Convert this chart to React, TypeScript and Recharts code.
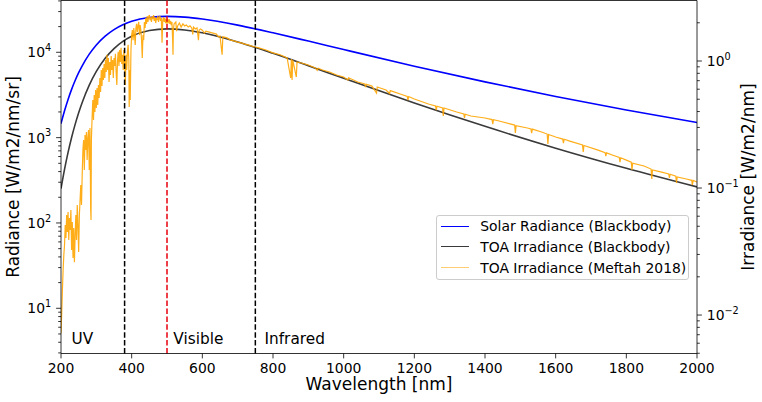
import { LineChart, Line, XAxis, YAxis, ReferenceLine, Legend } from "recharts";

const FONT = "DejaVu Sans, sans-serif";

// blackbody curves
const BB_WAVELENGTH = [200, 210, 220, 230, 240, 250, 260, 280, 300, 325, 350, 375, 400, 450, 500, 550, 600, 700, 800, 900, 1000, 1200, 1400, 1600, 1800, 2000];
const SOLAR_RADIANCE = [1459, 2065, 2806, 3678, 4667, 5763, 6946, 9505, 12183, 15460, 18447, 21020, 23067, 25590, 26375, 25857, 24532, 20805, 16921, 13531, 10766, 6872, 4500, 3036, 2109, 1505];
const TOA_BLACKBODY = [0.0991, 0.1403, 0.1906, 0.2499, 0.3171, 0.3915, 0.4719, 0.6458, 0.8277, 1.05, 1.253, 1.428, 1.567, 1.739, 1.792, 1.757, 1.667, 1.414, 1.15, 0.919, 0.731, 0.467, 0.306, 0.206, 0.143, 0.102];

// Meftah 2018 spectrum (traced)
const MEFTAH_WAVELENGTH = [
  200, 202, 204, 206, 208, 210, 212, 214, 216, 218, 220, 222, 224, 226, 228, 230, 232, 234, 236, 238,
  240, 242, 244, 246, 248, 250, 252, 254, 256, 258, 260, 262, 264, 266, 268, 270, 272, 274, 276, 278,
  280, 282, 284, 285, 286, 288, 290, 292, 294, 296, 298, 300, 302, 304, 306, 308, 310, 312, 314, 316,
  318, 320, 322, 324, 326, 328, 330, 332, 334, 336, 338, 340, 342, 344, 346, 348, 350, 352, 354, 356,
  358, 360, 362, 364, 366, 368, 370, 372, 374, 376, 378, 380, 382, 384, 386, 388, 390, 392, 393, 395,
  396, 398, 400, 402, 404, 406, 408, 410, 412, 414, 416, 418, 420, 422, 424, 426, 428, 430, 432, 434,
  436, 438, 440, 442, 444, 446, 448, 450, 452, 454, 456, 458, 460, 462, 464, 466, 468, 470, 472, 474,
  476, 478, 480, 482, 484, 486, 488, 490, 492, 494, 496, 498, 500, 502, 504, 506, 508, 510, 512, 514,
  516, 517, 518, 520, 525, 527, 530, 535, 540, 545, 550, 555, 560, 565, 570, 573, 575, 580, 585, 589,
  591, 595, 600, 606, 610, 620, 630, 640, 645, 650, 656, 658, 670, 680, 690, 700, 710, 720, 730, 740,
  750, 760, 780, 800, 820, 840, 850, 852, 854, 856, 866, 868, 880, 900, 920, 925, 928, 940, 960, 980,
  1000, 1012, 1014, 1040, 1060, 1062, 1064, 1080, 1093, 1095, 1120, 1130, 1132, 1160, 1180, 1182, 1184, 1200, 1240, 1260,
  1262, 1264, 1280, 1282, 1284, 1320, 1340, 1342, 1344, 1360, 1400, 1420, 1422, 1424, 1440, 1484, 1486, 1488, 1520, 1530,
  1532, 1534, 1560, 1576, 1578, 1580, 1600, 1620, 1622, 1624, 1640, 1676, 1678, 1680, 1720, 1740, 1742, 1744, 1760, 1780,
  1782, 1784, 1800, 1814, 1816, 1818, 1850, 1870, 1872, 1874, 1900, 1920, 1922, 1924, 1940, 1942, 1944, 1970, 1985, 1987,
  1989, 2000
];
const MEFTAH_IRRADIANCE = [
  0.0072, 0.0104, 0.0157, 0.0226, 0.0297, 0.0356, 0.0511, 0.0404, 0.0613, 0.045, 0.0647, 0.039, 0.058, 0.0467, 0.0671, 0.0325, 0.054, 0.0281, 0.0484, 0.0261,
  0.0419, 0.0613, 0.039, 0.0735, 0.0511, 0.0313, 0.0613, 0.0804, 0.1056, 0.0735, 0.1265, 0.199, 0.239, 0.1386, 0.261, 0.199, 0.276, 0.166, 0.248, 0.286,
  0.1386, 0.297, 0.0671, 0.056, 0.239, 0.356, 0.493, 0.343, 0.54, 0.397, 0.591, 0.427, 0.613, 0.45, 0.647, 0.511, 0.735, 0.57, 0.849, 0.635,
  0.881, 0.709, 0.947, 0.735, 1.018, 0.819, 1.12, 0.849, 1.056, 0.683, 0.982, 0.776, 1.095, 0.849, 1.018, 0.735, 1.056, 0.913, 1.14, 0.819,
  0.647, 1.018, 1.18, 0.913, 1.22, 0.982, 1.27, 0.947, 1.12, 0.849, 1.22, 0.982, 0.647, 1.12, 0.849, 1.18, 1.34, 1.018, 0.434, 0.849,
  0.493, 1.22, 1.6, 1.75, 1.46, 1.82, 1.6, 1.34, 1.82, 1.96, 1.69, 1.89, 2.03, 1.6, 1.92, 1.75, 1.46, 1.056, 1.6, 1.46,
  2.03, 1.82, 2.18, 1.96, 2.26, 2.03, 2.22, 2.3, 2.1, 2.22, 2.03, 2.26, 2.14, 2.3, 2.07, 2.22, 1.99, 2.18, 2.1, 2.26,
  2.03, 2.18, 2.26, 2.07, 2.18, 1.39, 2.1, 2.22, 2.03, 2.18, 1.99, 2.14, 1.96, 2.1, 2.03, 2.14, 1.96, 2.07, 1.92, 2.03,
  1.46, 1.12, 1.75, 1.96, 2.03, 1.72, 1.89, 1.99, 1.85, 1.96, 1.89, 1.92, 1.85, 1.89, 1.82, 1.62, 1.85, 1.79, 1.82, 1.46,
  1.75, 1.79, 1.75, 1.66, 1.72, 1.69, 1.66, 1.63, 1.55, 1.57, 1.12, 1.55, 1.52, 1.46, 1.44, 1.41, 1.39, 1.36, 1.34, 1.31,
  1.29, 1.27, 1.22, 1.16, 1.12, 1.056, 0.735, 1.037, 0.709, 1.018, 0.748, 0.982, 0.964, 0.93, 0.881, 0.845, 0.878, 0.849, 0.819, 0.776,
  0.748, 0.709, 0.738, 0.683, 0.659, 0.624, 0.657, 0.635, 0.56, 0.624, 0.591, 0.555, 0.585, 0.55, 0.527, 0.493, 0.525, 0.502, 0.459, 0.442,
  0.411, 0.44, 0.427, 0.369, 0.427, 0.397, 0.383, 0.356, 0.381, 0.369, 0.356, 0.346, 0.319, 0.345, 0.337, 0.313, 0.271, 0.31, 0.297, 0.292,
  0.271, 0.291, 0.276, 0.266, 0.222, 0.264, 0.252, 0.243, 0.226, 0.242, 0.234, 0.218, 0.192, 0.216, 0.199, 0.19, 0.178, 0.189, 0.182, 0.174,
  0.16, 0.173, 0.166, 0.16, 0.1386, 0.157, 0.149, 0.141, 0.1177, 0.1386, 0.1336, 0.129, 0.12, 0.1285, 0.124, 0.1095, 0.1221, 0.1177, 0.115, 0.1056,
  0.1148, 0.1114
];

const X_TICKS = [200, 400, 600, 800, 1000, 1200, 1400, 1600, 1800, 2000];
const LEFT_TICKS = [
  3, 4, 5, 6, 7, 8, 9, 10, 20, 30, 40, 50, 60, 70, 80, 90, 100, 200, 300, 400, 500, 600, 700, 800, 900,
  1000, 2000, 3000, 4000, 5000, 6000, 7000, 8000, 9000, 10000, 20000, 30000, 40000
];
const RIGHT_TICKS = [
  0.005, 0.006, 0.007, 0.008, 0.009, 0.01, 0.02, 0.03, 0.04, 0.05, 0.06, 0.07, 0.08, 0.09,
  0.1, 0.2, 0.3, 0.4, 0.5, 0.6, 0.7, 0.8, 0.9, 1, 2
];
const LEFT_DOMAIN = [2.953, 40450];
const RIGHT_DOMAIN = [0.00498, 2.995];

const REGION_LINES = [
  { x: 380, color: "#000000" },
  { x: 500, color: "#e8000b" },
  { x: 750, color: "#000000" }
];
const REGION_LABELS = [
  { x: 230, text: "UV" },
  { x: 518, text: "Visible" },
  { x: 776, text: "Infrared" }
];

const LEGEND_ITEMS = [
  { label: "Solar Radiance (Blackbody)", color: "#0000ff" },
  { label: "TOA Irradiance (Blackbody)", color: "#3a3a3a" },
  { label: "TOA Irradiance (Meftah 2018)", color: "rgba(255,165,0,0.55)" }
];

const solarData = BB_WAVELENGTH.map((wl, i) => ({ wl, v: SOLAR_RADIANCE[i] }));
const toaData = BB_WAVELENGTH.map((wl, i) => ({ wl, v: TOA_BLACKBODY[i] }));
const meftahData = MEFTAH_WAVELENGTH.map((wl, i) => ({ wl, v: MEFTAH_IRRADIANCE[i] }));

function LogTick(props: any) {
  const { x, y, payload, side } = props;
  const value = payload.value as number;
  const exp = Math.round(Math.log10(value));
  const major = Math.abs(Math.log10(value) - exp) < 1e-9;
  const dir = side === "left" ? -1 : 1;
  const len = major ? 4.9 : 2.8;
  return (
    <g>
      <line x1={x} x2={x + dir * len} y1={y} y2={y} stroke="#000" strokeWidth={0.8} />
      {major && (
        <text
          x={x + dir * 9.8}
          y={y + 5.2}
          textAnchor={side === "left" ? "end" : "start"}
          fontSize={13.9}
          fontFamily={FONT}
          fill="#000"
        >
          10
          <tspan dy={-6.6} fontSize={9.7}>
            {exp < 0 ? `\u2212${-exp}` : String(exp)}
          </tspan>
        </text>
      )}
    </g>
  );
}

function XTick(props: any) {
  const { x, y, payload } = props;
  return (
    <g>
      <line x1={x} x2={x} y1={y} y2={y + 4.9} stroke="#000" strokeWidth={0.8} />
      <text x={x} y={y + 19.2} textAnchor="middle" fontSize={13.9} fontFamily={FONT} fill="#000">
        {payload.value}
      </text>
    </g>
  );
}

function LegendBox() {
  return (
    <div
      style={{
        position: "relative",
        width: 252.4,
        height: 64.7,
        boxSizing: "border-box",
        border: "1px solid #cccccc",
        borderRadius: 3,
        background: "rgba(255,255,255,0.8)",
        fontFamily: FONT,
        fontSize: 13.9,
        color: "#000"
      }}
    >
      {LEGEND_ITEMS.map((item, i) => (
        <div
          key={item.label}
          style={{
            position: "absolute",
            left: 3.4,
            top: -0.8 + i * 21,
            height: 21,
            display: "flex",
            alignItems: "center",
            whiteSpace: "nowrap"
          }}
        >
          <span style={{ display: "inline-block", width: 28.6, borderTop: `1.5px solid ${item.color}` }} />
          <span style={{ marginLeft: 11 }}>{item.label}</span>
        </div>
      ))}
    </div>
  );
}

export default function App() {
  return (
    <div style={{ position: "absolute", left: 0, top: 0, width: 762, height: 402, background: "#fff" }}>
      <LineChart width={762} height={402} margin={{ top: 0.5, right: 0, bottom: 0, left: 0 }}>
        <XAxis
          type="number"
          dataKey="wl"
          domain={[200, 2000]}
          allowDataOverflow
          ticks={X_TICKS}
          interval={0}
          tick={XTick}
          tickLine={false}
          tickSize={0}
          tickMargin={0}
          height={48.5}
          axisLine={{ stroke: "#000", strokeWidth: 0.8 }}
          label={(p: any) => (
            <text
              x={p.viewBox.x + p.viewBox.width / 2}
              y={p.viewBox.y + 36.6}
              textAnchor="middle"
              fontSize={17}
              fontFamily={FONT}
              fill="#000"
            >
              Wavelength [nm]
            </text>
          )}
        />
        <YAxis
          yAxisId="left"
          orientation="left"
          type="number"
          scale="log"
          domain={LEFT_DOMAIN}
          allowDataOverflow
          ticks={LEFT_TICKS}
          interval={0}
          tick={(p: any) => <LogTick {...p} side="left" />}
          tickLine={false}
          tickSize={0}
          tickMargin={0}
          width={61}
          axisLine={{ stroke: "#000", strokeWidth: 0.8 }}
          label={(p: any) => {
            const cx = p.viewBox.x + 19.1;
            const cy = p.viewBox.y + p.viewBox.height / 2;
            return (
              <text x={cx} y={cy} transform={`rotate(-90 ${cx} ${cy})`} textAnchor="middle" fontSize={17} fontFamily={FONT} fill="#000">
                Radiance [W/m2/nm/sr]
              </text>
            );
          }}
        />
        <YAxis
          yAxisId="right"
          orientation="right"
          type="number"
          scale="log"
          domain={RIGHT_DOMAIN}
          allowDataOverflow
          ticks={RIGHT_TICKS}
          interval={0}
          tick={(p: any) => <LogTick {...p} side="right" />}
          tickLine={false}
          tickSize={0}
          tickMargin={0}
          width={65}
          axisLine={{ stroke: "#000", strokeWidth: 0.8 }}
          label={(p: any) => {
            const cx = p.viewBox.x + 57.1;
            const cy = p.viewBox.y + p.viewBox.height / 2;
            return (
              <text x={cx} y={cy} transform={`rotate(-90 ${cx} ${cy})`} textAnchor="middle" fontSize={17} fontFamily={FONT} fill="#000">
                Irradiance [W/m2/nm]
              </text>
            );
          }}
        />
        {/* top spine */}
        <ReferenceLine yAxisId="left" y={LEFT_DOMAIN[1]} stroke="#000" strokeWidth={0.8} />

        <Line yAxisId="left" data={solarData} dataKey="v" type="monotone" stroke="#0000ff" strokeWidth={1.6} dot={false} isAnimationActive={false} />
        <Line yAxisId="right" data={toaData} dataKey="v" type="monotone" stroke="#3a3a3a" strokeWidth={1.6} dot={false} isAnimationActive={false} />
        <Line yAxisId="right" data={meftahData} dataKey="v" type="linear" stroke="#ffa500" strokeOpacity={0.9} strokeWidth={1.2} dot={false} isAnimationActive={false} />

        {REGION_LINES.map((r) => (
          <ReferenceLine key={r.x} yAxisId="left" x={r.x} stroke={r.color} strokeWidth={1.5} strokeDasharray="5.5 2.4" />
        ))}
        {REGION_LABELS.map((r) => (
          <ReferenceLine
            key={r.text}
            yAxisId="left"
            x={r.x}
            stroke="none"
            label={(p: any) => (
              <text x={p.viewBox.x} y={p.viewBox.y + p.viewBox.height - 9.2} fontSize={15.3} fontFamily={FONT} fill="#000">
                {r.text}
              </text>
            )}
          />
        ))}

        <Legend
          layout="vertical"
          align="center"
          verticalAlign="middle"
          wrapperStyle={{ left: 436.3, top: 215.3, width: 252.4 }}
          content={() => <LegendBox />}
        />
      </LineChart>
    </div>
  );
}
